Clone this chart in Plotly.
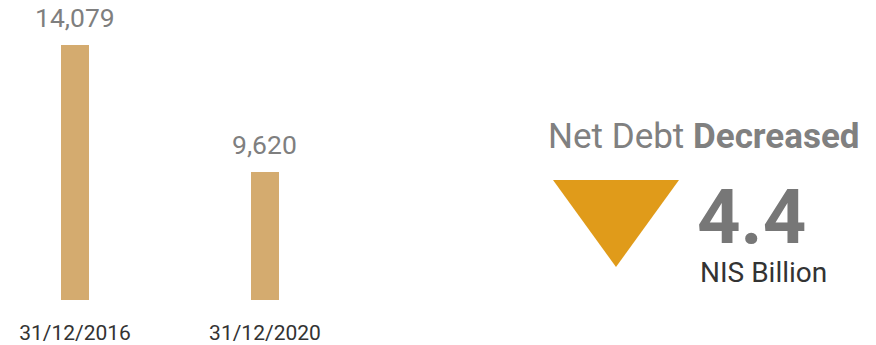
import plotly.graph_objects as go

# ---- data ----
categories = ["31/12/2016", "31/12/2020"]
net_debt = [14079, 9620]
headline_plain = "Net Debt "
headline_bold = "Decreased"
decrease_value = "4.4"
decrease_unit = "NIS Billion"

# ---- styling ----
W, H = 876, 345
M_T, M_B = 10, 45
BAR_COLOR = "#d4ab6f"
TRI_COLOR = "#e09b1a"
FONT = "Roboto"

def px_x(px):
    return px / W

def px_y(py):
    return (H - M_B - py) / (H - M_T - M_B)

fig = go.Figure()
fig.add_trace(go.Bar(
    x=list(range(len(categories))),
    y=net_debt,
    marker=dict(color=BAR_COLOR, line=dict(width=0)),
    width=0.147,
    hoverinfo="skip",
    cliponaxis=False,
))

# value labels above bars
for i, v in enumerate(net_debt):
    fig.add_annotation(
        x=i, y=v, xref="x", yref="y",
        text=f"{v:,}", showarrow=False,
        yanchor="bottom", yshift=10,
        font=dict(family=FONT, size=26.5, color="#7f7f7f"),
    )

# headline on the right
fig.add_annotation(
    x=px_x(704), y=px_y(136), xref="paper", yref="paper",
    text=f"{headline_plain}<b>{headline_bold}</b>", showarrow=False,
    xanchor="center", yanchor="middle",
    font=dict(family=FONT, size=35, color="#808080"),
)
fig.add_annotation(
    x=px_x(695), y=px_y(217), xref="paper", yref="paper",
    text=f"<b>{decrease_value}</b>", showarrow=False,
    xanchor="left", yanchor="middle",
    font=dict(family=FONT, size=76, color="#777777"),
)
fig.add_annotation(
    x=px_x(698), y=px_y(272), xref="paper", yref="paper",
    text=decrease_unit, showarrow=False,
    xanchor="left", yanchor="middle",
    font=dict(family=FONT, size=28, color="#333333"),
)

# down triangle
fig.add_shape(
    type="path", xref="paper", yref="paper",
    path=(f"M {px_x(553)} {px_y(180)} L {px_x(679)} {px_y(180)} "
          f"L {px_x(616)} {px_y(267)} Z"),
    fillcolor=TRI_COLOR, line=dict(width=0),
)

fig.update_layout(
    width=W, height=H,
    margin=dict(l=0, r=0, t=M_T, b=M_B, pad=0),
    paper_bgcolor="white", plot_bgcolor="white",
    showlegend=False,
    bargap=0,
    xaxis=dict(
        domain=[0, 0.5],
        range=[-0.395, 1.911],
        tickmode="array",
        tickvals=list(range(len(categories))),
        ticktext=categories,
        showgrid=False, zeroline=False, showline=False,
        ticks="", ticklabelstandoff=18,
        tickfont=dict(family=FONT, size=21, color="#333333"),
        fixedrange=True,
    ),
    yaxis=dict(
        range=[5126, 15308],
        visible=False,
        showgrid=False, zeroline=False,
        fixedrange=True,
    ),
)

fig.write_html("out.html")
